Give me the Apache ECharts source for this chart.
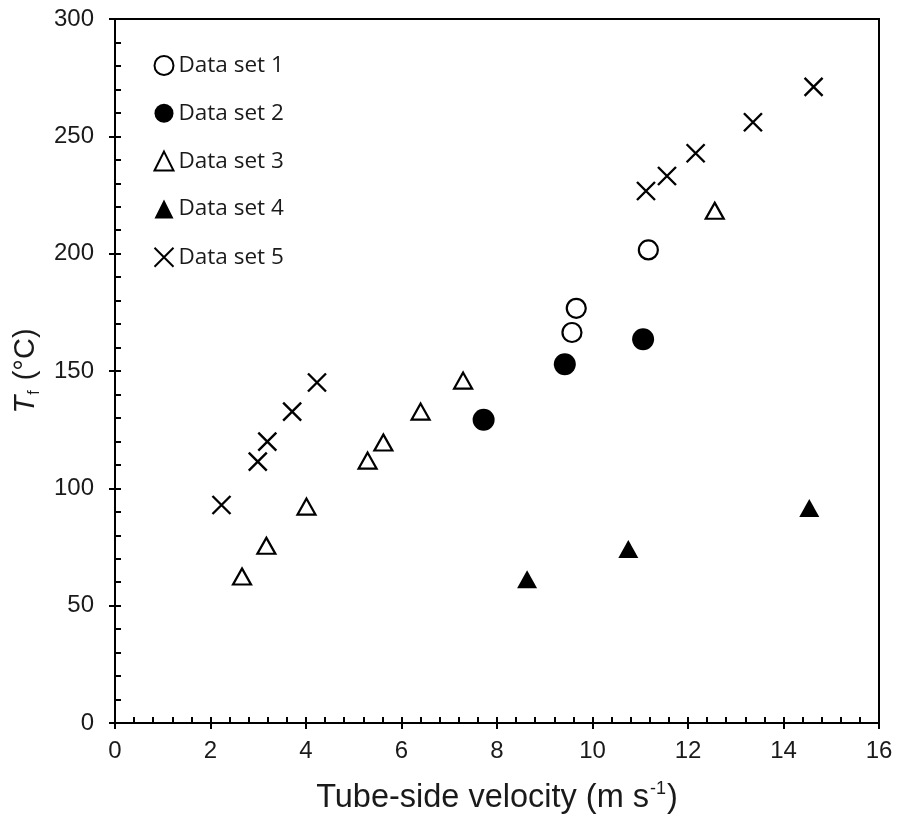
<!DOCTYPE html>
<html>
<head>
<meta charset="utf-8">
<script src="https://cdn.jsdelivr.net/npm/echarts@6/dist/echarts.min.js"></script>
<style>html,body{margin:0;padding:0;background:#fff}#c{width:898px;height:823px}</style>
</head>
<body>
<div id="c"></div>
<script>
var seriesNames = ['Data set 1', 'Data set 2', 'Data set 3', 'Data set 4', 'Data set 5'];
var set1 = [[9.57, 166.4], [9.66, 176.7], [11.17, 201.6]];
var set2 = [[7.72, 129.2], [9.42, 152.9], [11.06, 163.5]];
var set3 = [[2.66, 62.4], [3.17, 75.5], [4.01, 92.2], [5.29, 111.8], [5.62, 119.5], [6.40, 132.7], [7.29, 145.9], [12.56, 218.3]];
var set4 = [[8.63, 61.3], [10.75, 74.2], [14.54, 91.6]];
var set5 = [[2.23, 92.9], [2.99, 111.4], [3.19, 119.9], [3.71, 132.7], [4.23, 145.1], [11.12, 226.7], [11.56, 233.1], [12.16, 242.8], [13.36, 256.0], [14.63, 271.1]];
var xTicks = [0, 2, 4, 6, 8, 10, 12, 14, 16];
var yTicks = [0, 50, 100, 150, 200, 250, 300];

var chart = echarts.init(document.getElementById('c'), null, {renderer: 'canvas'});
var labelFont = {color: '#1a1a1a', fontFamily: 'Liberation Sans, Arial, sans-serif', fontSize: 24};
var crossPath = 'path://M0,0L10,10M10,0L0,10';

function xAxisBase(inside) {
  return {
    type: 'value', min: xTicks[0], max: xTicks[xTicks.length - 1], interval: 2, position: 'bottom',
    axisLine: {show: true, lineStyle: {color: '#000', width: 2}},
    axisTick: {show: true, inside: inside, length: 6, lineStyle: {color: '#000', width: 2}},
    minorTick: {show: inside, splitNumber: 5, length: 6, lineStyle: {color: '#000', width: 2}},
    splitLine: {show: false}, minorSplitLine: {show: false},
    axisLabel: inside ? {show: false} : Object.assign({margin: 16}, labelFont)
  };
}
function yAxisBase(inside) {
  return {
    type: 'value', min: yTicks[0], max: yTicks[yTicks.length - 1], interval: 50, position: 'left',
    axisLine: {show: true, lineStyle: {color: '#000', width: 2}},
    axisTick: {show: true, inside: inside, length: 6, lineStyle: {color: '#000', width: 2}},
    minorTick: {show: inside, splitNumber: 5, length: 6, lineStyle: {color: '#000', width: 2}},
    splitLine: {show: false}, minorSplitLine: {show: false},
    axisLabel: inside ? {show: false} : Object.assign({margin: 21}, labelFont)
  };
}

var xa0 = xAxisBase(false);
xa0.name = '{n|Tube-side velocity (m s}{sup|-1}{n|)}';
xa0.nameLocation = 'middle';
xa0.nameGap = 57;
xa0.nameTextStyle = {
  rich: {
    n: {fontFamily: 'Liberation Sans, Arial, sans-serif', fontSize: 32.5, color: '#1a1a1a', lineHeight: 36},
    sup: {fontFamily: 'Liberation Sans, Arial, sans-serif', fontSize: 18, color: '#1a1a1a', verticalAlign: 'top', lineHeight: 36, padding: [0, 1, 12, 1]}
  }
};
var ya0 = yAxisBase(false);
ya0.name = '{i|T}{sub|f}{n| (°C)}';
ya0.nameLocation = 'middle';
ya0.nameRotate = 90;
ya0.nameGap = 68;
ya0.nameTextStyle = {
  rich: {
    i: {fontFamily: 'Liberation Sans, Arial, sans-serif', fontStyle: 'italic', fontSize: 29, color: '#1a1a1a', lineHeight: 34},
    sub: {fontFamily: 'Liberation Sans, Arial, sans-serif', fontSize: 16, color: '#1a1a1a', verticalAlign: 'bottom', lineHeight: 34, padding: [8, 2, 0, 1]},
    n: {fontFamily: 'Liberation Sans, Arial, sans-serif', fontSize: 29, color: '#1a1a1a', lineHeight: 34}
  }
};

var option = {
  backgroundColor: '#fff',
  animation: false,
  grid: {left: 115, right: 19, top: 19, bottom: 100, show: true, borderColor: '#000', borderWidth: 2, backgroundColor: 'transparent'},
  legend: {
    orient: 'vertical', left: 147, top: 49, itemWidth: 19, itemHeight: 19, itemGap: 24.8,
    textStyle: {fontFamily: 'Open Sans, Noto Sans, sans-serif', fontSize: 22.5, color: '#1a1a1a', lineHeight: 20},
    data: seriesNames
  },
  xAxis: [xa0, xAxisBase(true)],
  yAxis: [ya0, yAxisBase(true)],
  series: [
    {name: seriesNames[0], type: 'scatter', data: set1, symbol: 'circle', symbolSize: 19,
     itemStyle: {color: '#fff', borderColor: '#000', borderWidth: 2.2, opacity: 1}},
    {name: seriesNames[1], type: 'scatter', data: set2, symbol: 'circle', symbolSize: 22,
     itemStyle: {color: '#000', borderColor: '#000', borderWidth: 0, opacity: 1}},
    {name: seriesNames[2], type: 'scatter', data: set3, symbol: 'triangle', symbolSize: [18, 16],
     itemStyle: {color: '#fff', borderColor: '#000', borderWidth: 2.2, opacity: 1}},
    {name: seriesNames[3], type: 'scatter', data: set4, symbol: 'triangle', symbolSize: [20, 18],
     itemStyle: {color: '#000', borderColor: '#000', borderWidth: 0, opacity: 1}},
    {name: seriesNames[4], type: 'scatter', data: set5, symbol: crossPath, symbolSize: 18,
     itemStyle: {color: 'none', borderColor: '#000', borderWidth: 2.4, opacity: 1}}
  ]
};
chart.setOption(option);
</script>
</body>
</html>
